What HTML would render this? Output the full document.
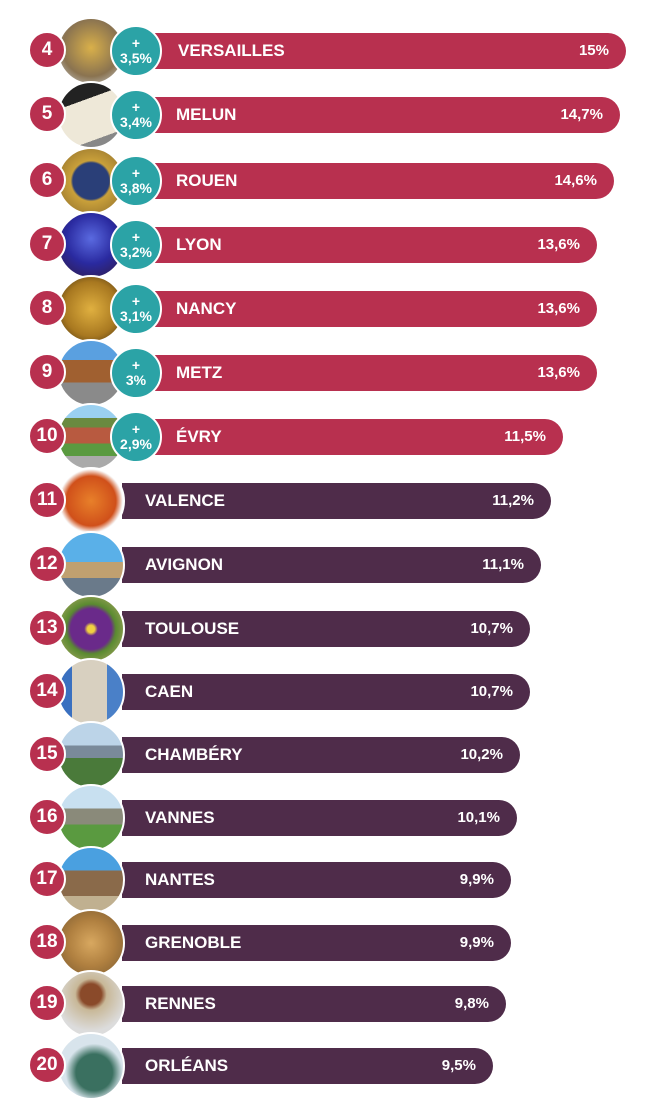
<!DOCTYPE html>
<html><head><meta charset="utf-8"><style>
body{margin:0;width:649px;height:1087px;background:#fff;position:relative;overflow:hidden;font-family:"Liberation Sans",sans-serif;}
.bar{position:absolute;height:36px;border-radius:0 18px 18px 0;color:#fff;font-weight:bold;font-size:17px;line-height:36px;}
.bar .n{position:absolute;top:0;}
.bar .v{position:absolute;right:17px;top:0;font-size:15px;}
.r{background:#b8304f}.p{background:#4f2c4a}
.img{position:absolute;width:64px;height:64px;border-radius:50%;border:2px solid #fff;box-sizing:content-box;margin:1px}
.num{position:absolute;width:34px;height:34px;border-radius:50%;background:#b8304f;border:2px solid #fff;color:#fff;font-weight:bold;font-size:19px;text-align:center;line-height:34px}
.t{position:absolute;width:48px;height:48px;border-radius:50%;background:#2ba3a6;border:2px solid #fff;color:#fff;font-weight:bold;font-size:14px;text-align:center;line-height:15px;box-sizing:content-box}
.t div{margin-top:9px}
</style></head><body>
<div class="bar r" style="left:155px;top:33px;width:471px"><span class="n" style="left:23px">VERSAILLES</span><span class="v">15%</span></div>
<div class="bar r" style="left:155px;top:97px;width:465px"><span class="n" style="left:21px">MELUN</span><span class="v">14,7%</span></div>
<div class="bar r" style="left:155px;top:163px;width:459px"><span class="n" style="left:21px">ROUEN</span><span class="v">14,6%</span></div>
<div class="bar r" style="left:155px;top:227px;width:442px"><span class="n" style="left:21px">LYON</span><span class="v">13,6%</span></div>
<div class="bar r" style="left:155px;top:291px;width:442px"><span class="n" style="left:21px">NANCY</span><span class="v">13,6%</span></div>
<div class="bar r" style="left:155px;top:355px;width:442px"><span class="n" style="left:21px">METZ</span><span class="v">13,6%</span></div>
<div class="bar r" style="left:155px;top:419px;width:408px"><span class="n" style="left:21px">ÉVRY</span><span class="v">11,5%</span></div>
<div class="bar p" style="left:122px;top:483px;width:429px"><span class="n" style="left:23px">VALENCE</span><span class="v">11,2%</span></div>
<div class="bar p" style="left:122px;top:547px;width:419px"><span class="n" style="left:23px">AVIGNON</span><span class="v">11,1%</span></div>
<div class="bar p" style="left:122px;top:611px;width:408px"><span class="n" style="left:23px">TOULOUSE</span><span class="v">10,7%</span></div>
<div class="bar p" style="left:122px;top:674px;width:408px"><span class="n" style="left:23px">CAEN</span><span class="v">10,7%</span></div>
<div class="bar p" style="left:122px;top:737px;width:398px"><span class="n" style="left:23px">CHAMBÉRY</span><span class="v">10,2%</span></div>
<div class="bar p" style="left:122px;top:800px;width:395px"><span class="n" style="left:23px">VANNES</span><span class="v">10,1%</span></div>
<div class="bar p" style="left:122px;top:862px;width:389px"><span class="n" style="left:23px">NANTES</span><span class="v">9,9%</span></div>
<div class="bar p" style="left:122px;top:925px;width:389px"><span class="n" style="left:23px">GRENOBLE</span><span class="v">9,9%</span></div>
<div class="bar p" style="left:122px;top:986px;width:384px"><span class="n" style="left:23px">RENNES</span><span class="v">9,8%</span></div>
<div class="bar p" style="left:122px;top:1048px;width:371px"><span class="n" style="left:23px">ORLÉANS</span><span class="v">9,5%</span></div>
<div class="img" style="left:56px;top:16px;background:radial-gradient(circle at 50% 45%,#d9b04a,#8a7350 60%,#cfd6df)"></div>
<div class="img" style="left:56px;top:80px;background:linear-gradient(160deg,#222 0 30%,#eee8d8 30% 80%,#888 80%)"></div>
<div class="img" style="left:56px;top:146px;background:radial-gradient(circle,#2a3f78 0 40%,#c9a03a 45%,#8a6a2a)"></div>
<div class="img" style="left:56px;top:210px;background:radial-gradient(circle at 50% 40%,#5a6ae0,#2a2aa0 50%,#301a40)"></div>
<div class="img" style="left:56px;top:274px;background:radial-gradient(circle,#e0b040,#a87820 60%,#3a2a10)"></div>
<div class="img" style="left:56px;top:338px;background:linear-gradient(#5aa0e0 0 30%,#a06030 30% 65%,#8a8a8a 65%)"></div>
<div class="img" style="left:56px;top:402px;background:linear-gradient(#9ad0f0 0 20%,#6a8a40 20% 35%,#b85a40 35% 60%,#5a9a40 60% 80%,#aaa 80%)"></div>
<div class="img" style="left:56px;top:466px;background:radial-gradient(circle,#e8802a,#d0501a 55%,#fafafa 70%)"></div>
<div class="img" style="left:56px;top:530px;background:linear-gradient(#5ab0e8 0 45%,#c0a070 45% 70%,#6a7a8a 70%)"></div>
<div class="img" style="left:56px;top:594px;background:radial-gradient(circle,#f0d040 0 8%,#6a2a8a 15% 45%,#5a8a30 55%,#c0b070)"></div>
<div class="img" style="left:56px;top:657px;background:linear-gradient(90deg,#3a70c0 0 20%,#d8d0c0 20% 75%,#4a80c8 75%)"></div>
<div class="img" style="left:56px;top:720px;background:linear-gradient(#bcd4e8 0 35%,#7a8a9a 35% 55%,#4a7a3a 55%)"></div>
<div class="img" style="left:56px;top:783px;background:linear-gradient(#c8e0f0 0 35%,#8a8a7a 35% 60%,#5a9a40 60%)"></div>
<div class="img" style="left:56px;top:845px;background:linear-gradient(#4aa0e0 0 35%,#8a6a4a 35% 75%,#c0b090 75%)"></div>
<div class="img" style="left:56px;top:908px;background:radial-gradient(circle,#d8a860,#b08040 50%,#7a5a30)"></div>
<div class="img" style="left:56px;top:969px;background:radial-gradient(circle at 50% 35%,#8a4a2a 0 20%,#c8b898 30%,#dcdcdc 70%)"></div>
<div class="img" style="left:56px;top:1031px;background:radial-gradient(circle at 55% 60%,#3a7060 0 35%,#d8e4ec 55%)"></div>
<div class="t" style="left:110px;top:25px"><div>+<br>3,5%</div></div>
<div class="t" style="left:110px;top:89px"><div>+<br>3,4%</div></div>
<div class="t" style="left:110px;top:155px"><div>+<br>3,8%</div></div>
<div class="t" style="left:110px;top:219px"><div>+<br>3,2%</div></div>
<div class="t" style="left:110px;top:283px"><div>+<br>3,1%</div></div>
<div class="t" style="left:110px;top:347px"><div>+<br>3%</div></div>
<div class="t" style="left:110px;top:411px"><div>+<br>2,9%</div></div>
<div class="num" style="left:28px;top:31px">4</div>
<div class="num" style="left:28px;top:95px">5</div>
<div class="num" style="left:28px;top:161px">6</div>
<div class="num" style="left:28px;top:225px">7</div>
<div class="num" style="left:28px;top:289px">8</div>
<div class="num" style="left:28px;top:353px">9</div>
<div class="num" style="left:28px;top:417px">10</div>
<div class="num" style="left:28px;top:481px">11</div>
<div class="num" style="left:28px;top:545px">12</div>
<div class="num" style="left:28px;top:609px">13</div>
<div class="num" style="left:28px;top:672px">14</div>
<div class="num" style="left:28px;top:735px">15</div>
<div class="num" style="left:28px;top:798px">16</div>
<div class="num" style="left:28px;top:860px">17</div>
<div class="num" style="left:28px;top:923px">18</div>
<div class="num" style="left:28px;top:984px">19</div>
<div class="num" style="left:28px;top:1046px">20</div>
</body></html>
